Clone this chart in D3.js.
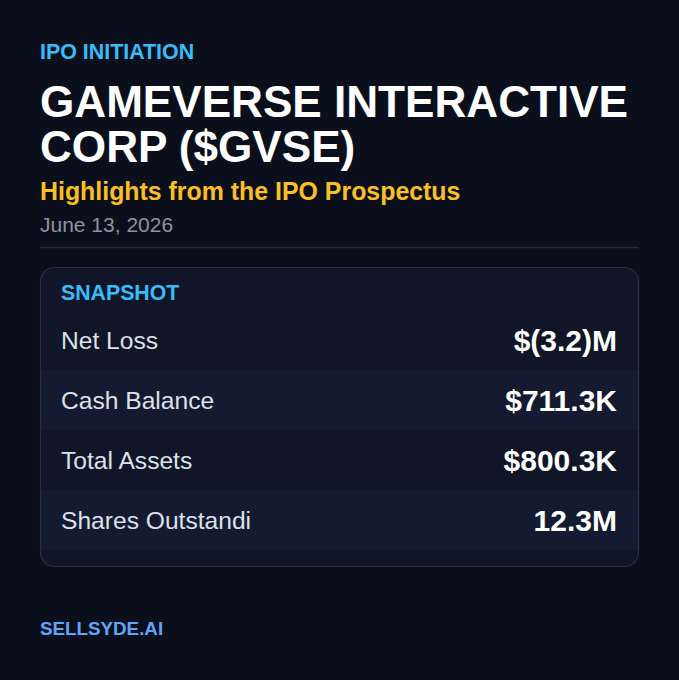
<!DOCTYPE html>
<html><head><meta charset="utf-8">
<script src="https://cdn.jsdelivr.net/npm/d3@7"></script>
<style>html,body{margin:0;padding:0;background:#0b0f1c;}svg{display:block;}</style>
</head><body>
<script>
const kicker = "IPO INITIATION";
const titleLines = ["GAMEVERSE INTERACTIVE", "CORP ($GVSE)"];
const subtitle = "Highlights from the IPO Prospectus";
const dateText = "June 13, 2026";
const cardTitle = "SNAPSHOT";
const metricLabels = ["Net Loss", "Cash Balance", "Total Assets", "Shares Outstandi"];
const metricValues = ["$(3.2)M", "$711.3K", "$800.3K", "12.3M"];
const footer = "SELLSYDE.AI";

const W = 679, H = 680;
const font = "'Liberation Sans', Arial, sans-serif";
const svg = d3.select("body").append("svg").attr("width", W).attr("height", H);
svg.append("rect").attr("width", W).attr("height", H).attr("fill", "#0b0f1c");

svg.append("text").attr("x", 40).attr("y", 59).text(kicker)
  .attr("font-family", font).attr("font-weight", 700).attr("font-size", 21.4).attr("fill", "#38bdf8");

svg.selectAll("text.title").data(titleLines).join("text").attr("class", "title")
  .attr("x", 40).attr("y", (d, i) => 117 + i * 45).text(d => d)
  .attr("font-family", font).attr("font-weight", 700).attr("font-size", 44.1).attr("fill", "#ffffff");

svg.append("text").attr("x", 40).attr("y", 200).text(subtitle)
  .attr("font-family", font).attr("font-weight", 700).attr("font-size", 24.9).attr("fill", "#fbbf24");

svg.append("text").attr("x", 40).attr("y", 231.5).text(dateText)
  .attr("font-family", font).attr("font-size", 21).attr("fill", "#8b93a3");

svg.append("line").attr("x1", 40).attr("x2", 639).attr("y1", 247.5).attr("y2", 247.5)
  .attr("stroke", "#262c3b").attr("stroke-width", 1.5);

// card
const card = {x: 40, y: 267, w: 599, h: 300};
const g = svg.append("g");
const clipId = "cardclip";
svg.append("defs").append("clipPath").attr("id", clipId).append("rect")
  .attr("x", card.x).attr("y", card.y).attr("width", card.w).attr("height", card.h).attr("rx", 14);
g.append("rect").attr("x", card.x).attr("y", card.y).attr("width", card.w).attr("height", card.h)
  .attr("rx", 14).attr("fill", "#101628");

const y = d3.scaleBand().domain(metricLabels).range([310, 310 + 60 * metricLabels.length]).padding(0);
const rows = g.append("g").attr("clip-path", `url(#${clipId})`);
rows.selectAll("rect.row").data(metricLabels).join("rect").attr("class", "row")
  .attr("x", card.x).attr("width", card.w)
  .attr("y", d => y(d)).attr("height", y.bandwidth())
  .attr("fill", (d, i) => i % 2 ? "#141b30" : "#101628");

g.append("rect").attr("x", card.x + 0.5).attr("y", card.y + 0.5).attr("width", card.w - 1).attr("height", card.h - 1)
  .attr("rx", 14).attr("fill", "none").attr("stroke", "#283043").attr("stroke-width", 1.2);

g.append("text").attr("x", 61).attr("y", 300).text(cardTitle)
  .attr("font-family", font).attr("font-weight", 700).attr("font-size", 21.3).attr("fill", "#38bdf8");

g.selectAll("text.lab").data(metricLabels).join("text").attr("class", "lab")
  .attr("x", 61).attr("y", d => y(d) + y.bandwidth() / 2 + 9).text(d => d)
  .attr("font-family", font).attr("font-size", 24.6).attr("fill", "#dde1e9");

g.selectAll("text.val").data(metricValues).join("text").attr("class", "val")
  .attr("x", 617).attr("text-anchor", "end")
  .attr("y", (d, i) => y(metricLabels[i]) + y.bandwidth() / 2 + 11).text(d => d)
  .attr("font-family", font).attr("font-weight", 700).attr("font-size", 30).attr("fill", "#ffffff");

svg.append("text").attr("x", 40).attr("y", 635).text(footer)
  .attr("font-family", font).attr("font-weight", 700).attr("font-size", 18.8).attr("fill", "#60a5fa");
</script>
</body></html>
